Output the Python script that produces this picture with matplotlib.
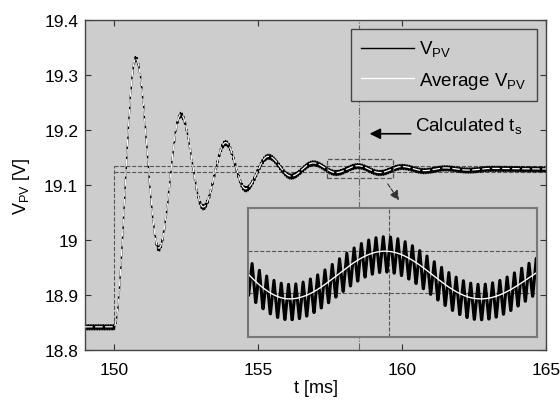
import numpy as np
import matplotlib
matplotlib.use("Agg")
import matplotlib.pyplot as plt
from matplotlib.patches import Rectangle

plt.rcParams['font.family'] = ['Liberation Sans', 'DejaVu Sans']
plt.rcParams['font.size'] = 13.5

# ---- data ----
# extrema of the average PV voltage (time in ms, voltage in V)
ext_t = [149.0, 150.0, 150.76, 151.56, 152.32, 153.10, 153.88, 154.57, 155.36,
         156.15, 156.92, 157.71, 158.47, 159.23, 160.00, 160.77, 161.50, 162.30,
         163.10, 165.0]
ext_v = [18.842, 18.842, 19.330, 18.985, 19.228, 19.060, 19.177, 19.093, 19.152,
         19.116, 19.140, 19.1225, 19.135, 19.1225, 19.1335, 19.126, 19.131,
         19.127, 19.130, 19.129]
ripple_hi = 0.0038      # switching ripple above average (V)
ripple_lo = 0.0058      # switching ripple below average (V)
ripple_period = 0.058   # switching period (ms)

band_hi = 19.135
band_lo = 19.124
t_step = 150.0
t_settle = 158.5
zoom_t = [157.38, 159.68]
zoom_v = [19.1125, 19.1463]

xticks = [150, 155, 160, 165]
yticks = [18.8, 18.9, 19.0, 19.1, 19.2, 19.3, 19.4]
yticklabels = ['18.8', '18.9', '19', '19.1', '19.2', '19.3', '19.4']

# ---- build curves (half-cosine between read extrema) ----
t = np.arange(149.0, 165.0, 0.002)
avg = np.empty_like(t)
for i in range(len(ext_t) - 1):
    m = (t >= ext_t[i]) & (t <= ext_t[i + 1])
    f = (t[m] - ext_t[i]) / (ext_t[i + 1] - ext_t[i])
    avg[m] = ext_v[i] + (ext_v[i + 1] - ext_v[i]) * (1 - np.cos(np.pi * f)) / 2
phase = (t / ripple_period) % 1.0
tri = np.where(phase < 0.5, phase * 2, 2 - phase * 2)
vpv = avg + ripple_hi - (ripple_hi + ripple_lo) * tri

bg = '#cdcdcd'
fig = plt.figure(figsize=(5.6, 4.02), dpi=100)
ax = fig.add_axes([0.152, 0.127, 0.823, 0.821])
ax.set_facecolor(bg)

# guide lines
ax.plot([t_step, 165], [band_hi, band_hi], ls='--', color='#555555', lw=0.8, zorder=1)
ax.plot([t_step, 165], [band_lo, band_lo], ls='--', color='#555555', lw=0.8, zorder=1)
ax.plot([t_step, t_step], [ext_v[0], band_hi], ls='--', color='#555555', lw=0.8, zorder=1)
ax.axvline(t_settle, ls='-.', color='#666666', lw=0.8, zorder=1)

ax.plot(t, vpv, color='black', lw=1.0, label='V$_{\\mathregular{PV}}$', zorder=2)
ax.plot(t, avg, color='white', lw=0.9, ls=(0, (6, 2)), label='Average V$_{\\mathregular{PV}}$', zorder=3)

# zoom rectangle
ax.add_patch(Rectangle((zoom_t[0], zoom_v[0]), zoom_t[1] - zoom_t[0], zoom_v[1] - zoom_v[0],
                       fill=False, ls='--', ec='#555555', lw=0.9, zorder=4))
ax.annotate('', xy=(159.95, 19.068), xytext=(159.45, 19.106),
            arrowprops=dict(arrowstyle='-|>', ls='--', color='#333333', lw=0.8,
                            mutation_scale=14))

# Calculated t_s annotation
ax.annotate('', xy=(158.78, 19.193), xytext=(160.4, 19.193),
            arrowprops=dict(arrowstyle='-|>', color='black', lw=1.2, mutation_scale=16))
ax.text(160.45, 19.207, 'Calculated t$_{\\mathregular{s}}$', ha='left', va='center')

ax.set_xlim(149, 165)
ax.set_ylim(18.8, 19.4)
ax.set_xticks(xticks)
ax.set_yticks(yticks)
ax.set_yticklabels(yticklabels)
ax.tick_params(direction='in', top=True, right=True, length=4, width=0.8,
               color='#333333', labelsize=12.5)
ax.tick_params(axis='x', pad=9)
ax.tick_params(axis='y', pad=5)
for s in ax.spines.values():
    s.set_color('#444444')
    s.set_linewidth(1.0)
ax.set_xlabel('t [ms]', labelpad=1, fontsize=13)
ax.set_ylabel('V$_{\\mathregular{PV}}$ [V]', labelpad=9, fontsize=13)

leg = ax.legend(loc='upper right', bbox_to_anchor=(0.980, 0.973), borderaxespad=0,
                fancybox=False, edgecolor='#444444', facecolor=bg, framealpha=1,
                handlelength=2.8, handletextpad=0.3, labelspacing=0.55, borderpad=0.55)
for h in leg.get_lines():
    h.set_linestyle('-')
leg.get_frame().set_linewidth(1.0)

# inset
ins = fig.add_axes([0.443, 0.159, 0.516, 0.321])
ins.set_facecolor(bg)
m = (t >= zoom_t[0] - 0.1) & (t <= zoom_t[1] + 0.1)
ins.axhline(band_hi, ls='--', color='#555555', lw=0.8)
ins.axhline(band_lo, ls='--', color='#555555', lw=0.8)
ins.axvline(t_settle, ls='--', color='#555555', lw=0.8)
ins.plot(t[m], vpv[m], color='black', lw=2.2)
ins.plot(t[m], avg[m], color='white', lw=1.0)
ins.set_xlim(zoom_t)
ins.set_ylim(zoom_v)
ins.set_xticks([])
ins.set_yticks([])
for s in ins.spines.values():
    s.set_color('#777777')
    s.set_linewidth(1.5)

fig.savefig('out.png', dpi=100, facecolor='white')
